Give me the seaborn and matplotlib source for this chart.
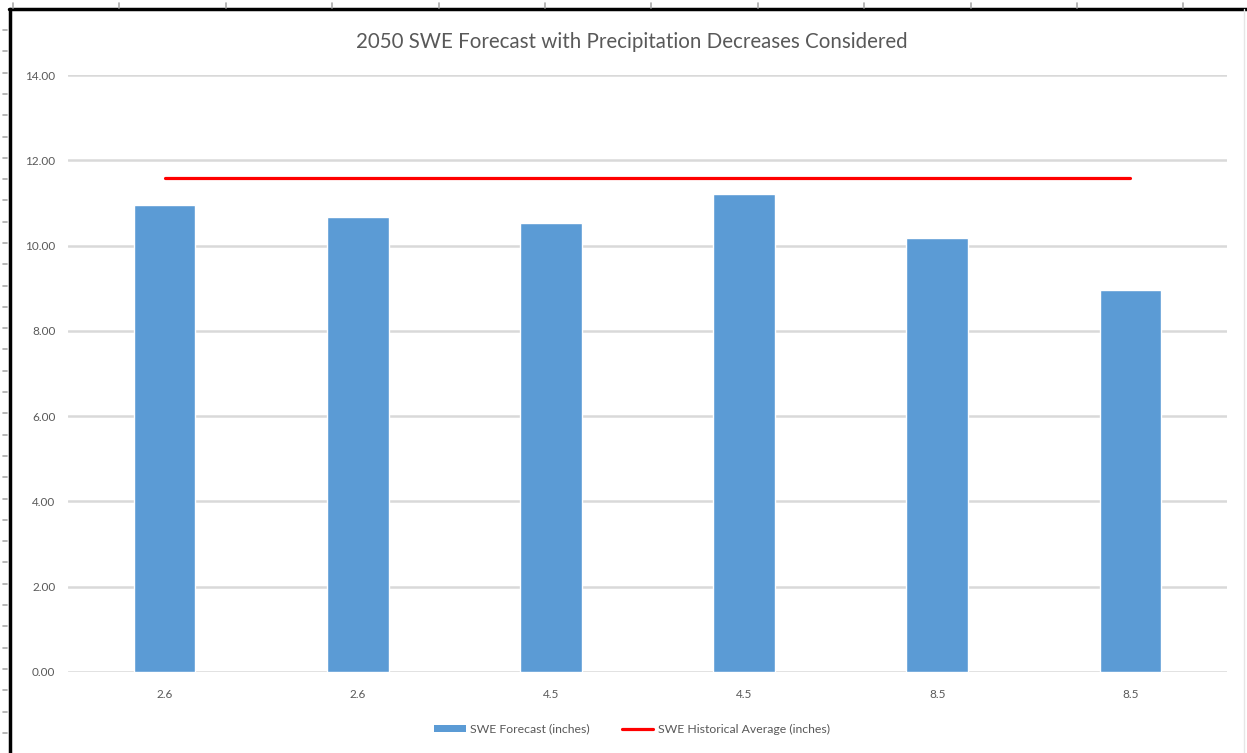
import matplotlib
matplotlib.use("Agg")
import matplotlib.pyplot as plt
from matplotlib.lines import Line2D
from matplotlib.patches import Patch
import numpy as np
import pandas as pd
import seaborn as sns

# RCP scenario labels (two model runs per scenario)
scenario_labels = ["2.6", "2.6", "4.5", "4.5", "8.5", "8.5"]
swe_forecast = [10.95, 10.68, 10.52, 11.20, 10.17, 8.96]
swe_historical = [11.59, 11.59, 11.59, 11.59, 11.59, 11.59]
y_ticks = [0, 2, 4, 6, 8, 10, 12, 14]

title = "2050 SWE Forecast with Precipitation Decreases Considered"
bar_label = "SWE Forecast (inches)"
line_label = "SWE Historical Average (inches)"

BAR_COLOR = "#5B9BD5"
LINE_COLOR = "#FF0000"
TEXT_COLOR = "#595959"
GRID_COLOR = "#D9D9D9"

sns.set_theme(style="white")
plt.rcParams["font.family"] = ["Lato", "DejaVu Sans"]

W, H = 1247, 753
fig = plt.figure(figsize=(W / 100, H / 100), dpi=100)
fig.patch.set_facecolor("white")


def fx(px):
    return px / W


def fy(py):
    return 1 - py / H


ax = fig.add_axes([fx(68), fy(672), fx(1227) - fx(68), fy(75) - fy(672)])

df = pd.DataFrame({
    "run": [str(i) for i in range(len(scenario_labels))],
    "pos": np.arange(len(scenario_labels)),
    "forecast": swe_forecast,
    "historical": swe_historical,
})

sns.barplot(data=df, x="run", y="forecast", color=BAR_COLOR, width=0.32,
            saturation=1, ax=ax, zorder=3)
sns.lineplot(data=df, x="pos", y="historical", color=LINE_COLOR, linewidth=2.3,
             ax=ax, zorder=4)

ax.set_xlim(-0.5, len(scenario_labels) - 0.5)
ax.set_ylim(0, 14)
ax.set_yticks(y_ticks)
ax.set_yticklabels([f"{v:.2f}" for v in y_ticks], fontsize=8.5, color=TEXT_COLOR)
ax.set_xticks(np.arange(len(scenario_labels)))
ax.set_xticklabels(scenario_labels, fontsize=8.5, color=TEXT_COLOR)
ax.tick_params(axis="both", length=0)
ax.tick_params(axis="y", pad=9)
ax.tick_params(axis="x", pad=12)
ax.set_xlabel("")
ax.set_ylabel("")
ax.yaxis.grid(True, color=GRID_COLOR, linewidth=1.8, zorder=0)
ax.set_axisbelow(True)
for s in ax.spines.values():
    s.set_visible(False)

fig.text(fx(632), fy(42), title, ha="center", va="center", fontsize=14.8,
         color=TEXT_COLOR)

handles = [
    Patch(facecolor=BAR_COLOR, edgecolor="none"),
    Line2D([0], [0], color=LINE_COLOR, linewidth=2.3),
]
fig.legend(handles, [bar_label, line_label], loc="center",
           bbox_to_anchor=(fx(632), fy(729)), ncol=2, frameon=False,
           fontsize=8.8, labelcolor=TEXT_COLOR, handlelength=2.6,
           handleheight=0.5, handletextpad=0.35, columnspacing=2.6)

# page frame and ruler marks around the chart
fig.add_artist(Line2D([fx(9), fx(W)], [fy(9), fy(9)], color="black",
                      linewidth=2.5, transform=fig.transFigure))
fig.add_artist(Line2D([fx(10), fx(10)], [fy(9), fy(H)], color="black",
                      linewidth=2.5, transform=fig.transFigure))
fig.add_artist(Line2D([fx(1244), fx(1244)], [fy(9), fy(H)], color="#E6E6E6",
                      linewidth=1, transform=fig.transFigure))
for x in np.arange(13, W, 106.4):
    fig.add_artist(Line2D([fx(x), fx(x)], [fy(3), fy(8)], color="#AAAAAA",
                          linewidth=1.2, transform=fig.transFigure))
for y in np.arange(30, H, 21.3):
    fig.add_artist(Line2D([fx(3), fx(7)], [fy(y), fy(y)], color="#AAAAAA",
                          linewidth=1.2, transform=fig.transFigure))

fig.savefig("out.png", dpi=100, facecolor="white")
